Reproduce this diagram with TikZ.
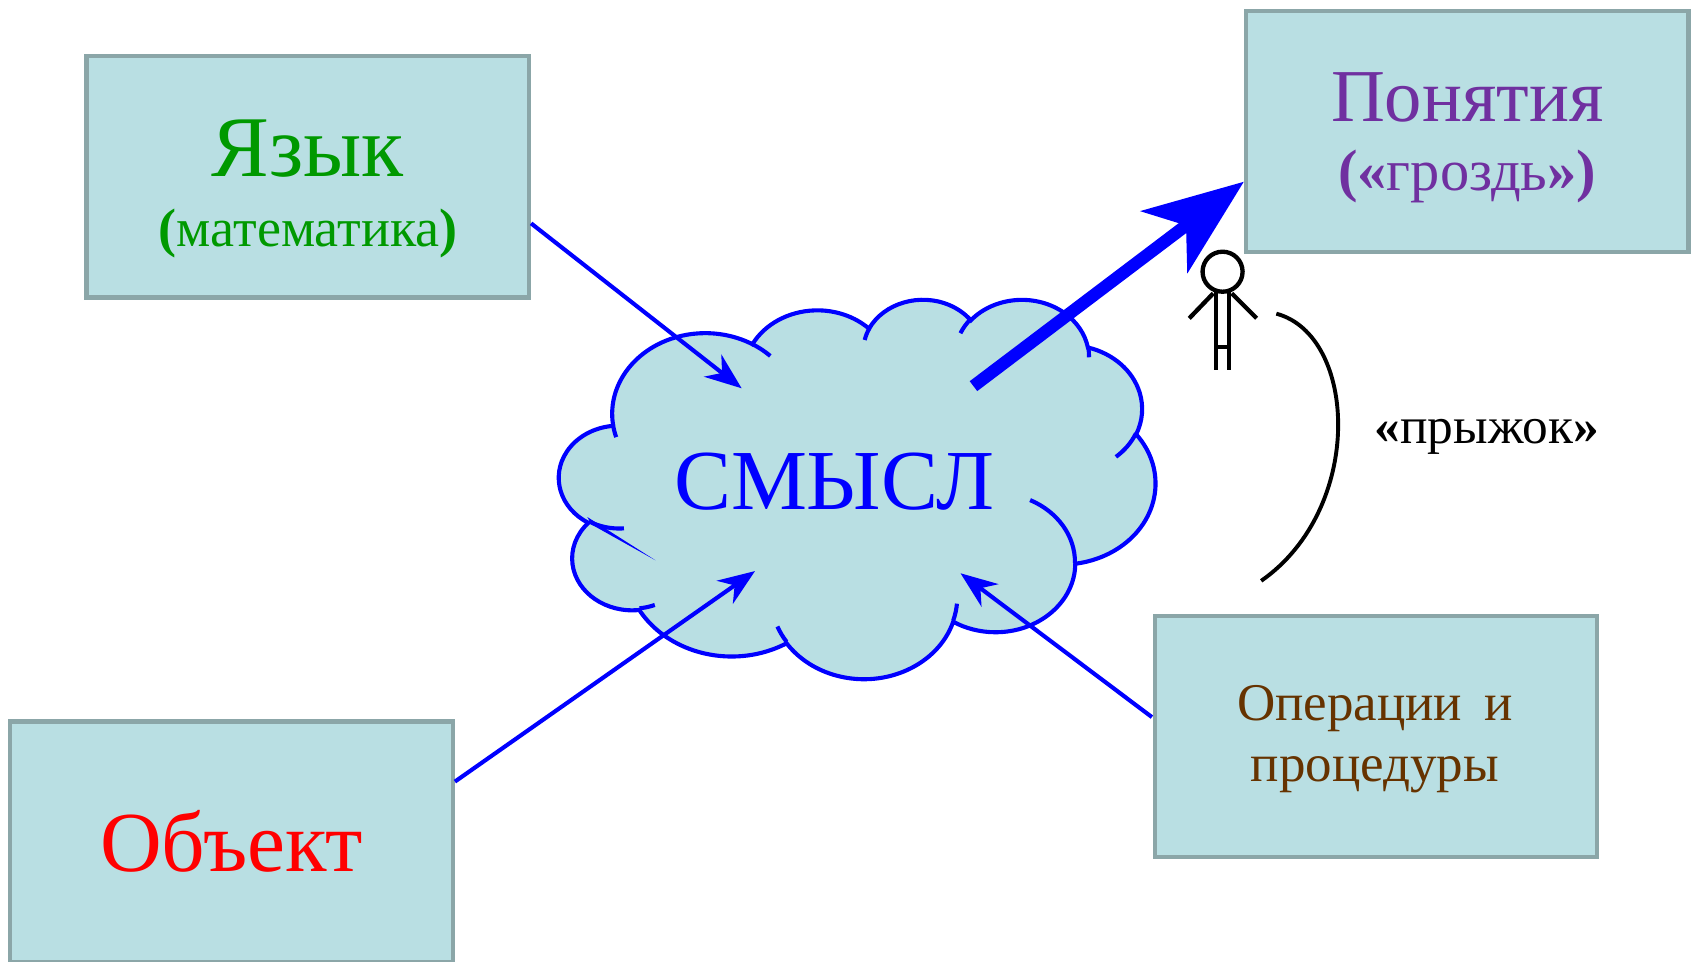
\documentclass[tikz,border=0pt]{standalone}
\usepackage{fontspec}
\setmainfont{Liberation Serif}
\usetikzlibrary{arrows.meta}

\definecolor{boxfill}{RGB}{185,223,227}
\definecolor{boxline}{RGB}{139,166,168}
\definecolor{txtgreen}{RGB}{0,153,0}
\definecolor{txtpurple}{RGB}{112,48,160}
\definecolor{txtbrown}{RGB}{102,51,0}
\definecolor{txtred}{RGB}{255,0,0}
\definecolor{pureblue}{RGB}{0,0,255}

% cloud path builder (DrawingML arcTo, visual angles -> parametric)
\def\cldacc{}
\newcommand\cldarc[4]{%
  \pgfmathsetmacro\cldA{atan2(#1*sin(#3),#2*cos(#3))}%
  \pgfmathsetmacro\cldB{atan2(#1*sin(#3+#4),#2*cos(#3+#4))}%
  \pgfmathsetmacro\cldD{\cldB-\cldA}%
  \pgfmathsetmacro\cldD{ifthenelse(\cldD<0,\cldD+360,\cldD)}%
  \xdef\cldacc{\cldacc arc[start angle=\cldA, delta angle=\cldD, x radius=#1, y radius=#2]}%
}
\newcommand\cldmove[2]{\xdef\cldacc{\cldacc (#1,#2)}}

\cldarc{6753}{9190}{-190.4875}{123.7805}
\cldarc{5333}{7267}{-144.1024}{89.9452}
\cldarc{4365}{5945}{-145.8079}{99.7230}
\cldarc{4857}{6595}{-130.9861}{117.2417}
\cldarc{5333}{7273}{-78.7089}{109.0269}
\cldarc{6775}{9220}{-46.2673}{130.2690}
\cldarc{5785}{7867}{0.6250}{114.0333}
\cldarc{6752}{9215}{22.4516}{115.1726}
\cldarc{7720}{10543}{66.2426}{75.7110}
\cldarc{4360}{5918}{-274.9421}{146.7356}
\cldarc{4345}{5945}{-246.8285}{152.5189}
\let\cldmain\cldacc
\def\cldacc{}
\cldmove{4693}{26177}\cldarc{4345}{5945}{86.7420}{26.4295}
\cldmove{6928}{34899}\cldarc{4360}{5918}{73.6105}{11.4475}
\cldmove{16478}{39090}\cldarc{6752}{9215}{137.6242}{14.0811}
\cldmove{28827}{34751}\cldarc{6752}{9215}{6.4533}{15.9984}
\cldmove{34129}{22954}\cldarc{5785}{7867}{-70.2924}{70.9174}
\cldmove{41798}{15354}\cldarc{5333}{7273}{30.3180}{27.7515}
\cldmove{38324}{5426}\cldarc{4857}{6595}{-13.7443}{14.8589}
\cldmove{29078}{3952}\cldarc{4857}{6595}{-149.1815}{18.1954}
\cldmove{22141}{4720}\cldarc{4365}{5945}{-163.4943}{17.6864}
\cldmove{14000}{5192}\cldarc{6753}{9190}{-66.7070}{12.3194}
\cldmove{4127}{15789}\cldarc{6753}{9190}{157.6544}{11.8582}
\let\cldinner\cldacc

\tikzset{
  box/.style={draw=boxline, fill=boxfill, line width=3.8pt, rectangle,
    minimum width=409pt, minimum height=223pt, inner sep=0pt, outer sep=0pt},
  txt/.style={anchor=base, inner sep=0pt, outer sep=0pt},
  cloudline/.style={draw=pureblue, line width=3.8pt},
  thinarrow/.style={draw=pureblue, line width=3.8pt,
    -{Stealth[length=34pt,width=26pt,inset=11pt]}},
  thickarrow/.style={draw=pureblue, line width=11.5pt,
    -{Stealth[length=92pt,width=71pt,inset=25pt]}},
  figline/.style={draw=black, line width=4pt},
}

\begin{document}
\begin{tikzpicture}[x=1pt, y=-1pt]
\useasboundingbox (0,0) rectangle (1568,889);

% boxes
\node[box] (yazyk) at (284.5,163.5) {};
\node[box] (ponyatiya) at (1356.5,121.5) {};
\node[box, minimum height=222pt] (obekt) at (214,778) {};
\node[box] (operacii) at (1272,681) {};

% cloud
\begin{scope}[shift={(517,276)}, x=0.0127546pt, y=-0.008125pt]
  \edef\cldcmd{\noexpand\path[fill=boxfill] (3900,14370) \cldmain -- cycle;}\cldcmd
  \edef\cldcmd{\noexpand\draw[cloudline] (3900,14370) \cldmain -- cycle;}\cldcmd
  \edef\cldcmd{\noexpand\draw[cloudline] \cldinner;}\cldcmd
\end{scope}
\fill[pureblue] (543,478) -- (547,485) -- (606,518) -- cycle;

% texts
\node[txt, text=txtgreen, font=\fontsize{80}{84}\selectfont] (tyazyk) at (284.5,163.3) {Язык};
\node[txt, text=txtgreen, font=\fontsize{50}{54}\selectfont] (tmat) at (285,228) {\textbf{(}математика\textbf{)}};
\node[txt, text=txtpurple, font=\fontsize{69}{72}\selectfont] (tpon) at (1356.5,112.5) {Понятия};
\node[txt, text=txtpurple, font=\fontsize{54}{58}\selectfont] (tgr) at (1356.5,175.7) {\textbf{(«}гроздь\textbf{»)}};
\node[txt, text=txtred, font=\fontsize{79}{82}\selectfont] (tobj) at (214.2,806) {Объект};
\node[txt, text=txtbrown, font=\fontsize{49}{52}\selectfont] (top1) at (1271.2,666.3) {Операции\hspace{0.17em} и};
\node[txt, text=txtbrown, font=\fontsize{49}{52}\selectfont] (top2) at (1271.2,722.6) {процедуры};
\node[txt, text=pureblue, font=\fontsize{79}{82}\selectfont] (tsmysl) at (771.2,470.6) {СМЫСЛ};
\node[txt, text=black, font=\fontsize{47.5}{50}\selectfont] (tjump) at (1374.5,410) {\textbf{«}прыжок\textbf{»}};

% connectors
\coordinate (a1s) at (491,206.5);
\coordinate (a1e) at (685.7,359);
\coordinate (a2s) at (420.6,722.6);
\coordinate (a2e) at (698,528);
\coordinate (a3s) at (1065,663);
\coordinate (a3e) at (888,530);
\coordinate (a4s) at (900,357);
\coordinate (a4e) at (1150,168);
\draw[thinarrow] (a1s) -- (a1e);
\draw[thinarrow] (a2s) -- (a2e);
\draw[thinarrow] (a3s) -- (a3e);
\draw[thickarrow] (a4s) -- (a4e);

% stick figure
\draw[figline] (1130.3,251.2) circle[radius=18.5];
\draw[figline] (1124.2,269.5) -- (1124.2,342);
\draw[figline] (1136.2,269.5) -- (1136.2,342);
\draw[figline] (1124.2,320.5) -- (1136.2,320.5);
\draw[figline] (1121.7,271.2) -- (1099.5,294.3);
\draw[figline] (1138.7,271.2) -- (1161.8,294.3);

% jump curve
\coordinate (js) at (1180,290);
\coordinate (je) at (1166,537);
\draw[draw=black, line width=3.6pt] (js) .. controls (1255,310) and (1262,470) .. (je);
\end{tikzpicture}
\end{document}
